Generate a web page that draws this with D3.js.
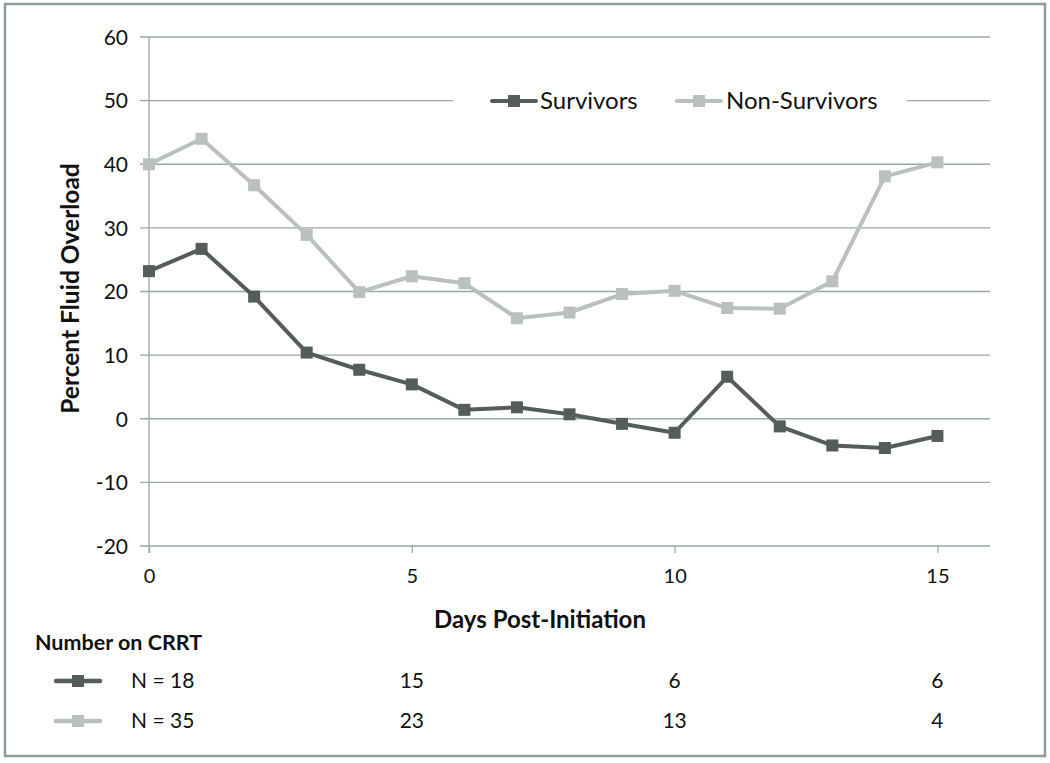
<!DOCTYPE html>
<html>
<head>
<meta charset="utf-8">
<script src="https://cdn.jsdelivr.net/npm/d3@7"></script>
<style>
  body { margin: 0; background: #fff; }
  svg text { font-family: Lato, "Open Sans", sans-serif; fill: #111; }
</style>
</head>
<body>
<svg id="chart" width="1050" height="763"></svg>
<script>
const days = [0,1,2,3,4,5,6,7,8,9,10,11,12,13,14,15];
const survivors = [23.2, 26.7, 19.2, 10.4, 7.7, 5.4, 1.4, 1.8, 0.7, -0.8, -2.2, 6.6, -1.2, -4.2, -4.6, -2.7];
const nonSurvivors = [40.0, 44.0, 36.7, 28.9, 19.9, 22.4, 21.3, 15.8, 16.7, 19.6, 20.1, 17.4, 17.3, 21.6, 38.1, 40.3];
const seriesNames = ["Survivors", "Non-Survivors"];
const yTicks = [-20, -10, 0, 10, 20, 30, 40, 50, 60];
const xTicks = [0, 5, 10, 15];
const crrtDays = [0, 5, 10, 15];
const crrtSurvivors = ["N = 18", "15", "6", "6"];
const crrtNonSurvivors = ["N = 35", "23", "13", "4"];

const colors = ["#555d5c", "#b9c0be"];
const gridColor = "#98a8a5";

const svg = d3.select("#chart");

// frame
svg.append("rect").attr("x", 5).attr("y", 4).attr("width", 1040).attr("height", 752)
  .attr("fill", "none").attr("stroke", "#8d9a98").attr("stroke-width", 2.5);

const x = d3.scaleLinear().domain([0, 16]).range([149, 990]);
const y = d3.scaleLinear().domain([-20, 60]).range([546, 37]);

// grid lines
svg.append("g").selectAll("line").data(yTicks).join("line")
  .attr("x1", 140).attr("x2", 990)
  .attr("y1", d => y(d)).attr("y2", d => y(d))
  .attr("stroke", gridColor).attr("stroke-width", 1.3);

// y tick labels
const yAxis = d3.axisLeft(y).tickValues(yTicks).tickSize(0).tickPadding(0).tickFormat(d => String(d));
const gy = svg.append("g").attr("transform", "translate(128,0)").call(yAxis);
gy.select(".domain").remove();
gy.selectAll("text").attr("font-size", 21).attr("fill", "#111").attr("dy", "0.35em")
  .style("font-family", "Lato, sans-serif");

// y axis vertical line
svg.append("line").attr("x1", x(0)).attr("x2", x(0)).attr("y1", y(60)).attr("y2", y(-20) + 7)
  .attr("stroke", gridColor).attr("stroke-width", 1.3);

// x axis
const xAxis = d3.axisBottom(x).tickValues(xTicks).tickSize(7).tickPadding(16).tickFormat(d => String(d));
const gx = svg.append("g").attr("transform", `translate(0,${y(-20)})`).call(xAxis);
gx.select(".domain").remove();
gx.selectAll("line").attr("stroke", gridColor).attr("stroke-width", 1.3);
gx.selectAll("text").attr("font-size", 20).attr("fill", "#111")
  .style("font-family", "Lato, sans-serif");

// legend background (interrupts grid line)
svg.append("rect").attr("x", 453).attr("y", 88).attr("width", 454).attr("height", 26).attr("fill", "#fff");

// lines
const line = d3.line().x((d, i) => x(days[i])).y(d => y(d));
[survivors, nonSurvivors].forEach((s, k) => {
  svg.append("path").datum(s).attr("d", line).attr("fill", "none")
    .attr("stroke", colors[k]).attr("stroke-width", 4).attr("stroke-linejoin", "round");
  svg.append("g").selectAll("rect").data(s).join("rect")
    .attr("x", (d, i) => x(days[i]) - 6).attr("y", d => y(d) - 6)
    .attr("width", 12).attr("height", 12).attr("fill", colors[k]);
});

// legend
const legendItems = [{x: 492, tx: 540}, {x: 677, tx: 726}];
legendItems.forEach((li, k) => {
  const g = svg.append("g");
  g.append("line").attr("x1", li.x).attr("x2", li.x + 44).attr("y1", 101).attr("y2", 101)
    .attr("stroke", colors[k]).attr("stroke-width", 4).attr("stroke-linecap", "round");
  g.append("rect").attr("x", li.x + 16).attr("y", 95).attr("width", 12).attr("height", 12).attr("fill", colors[k]);
  g.append("text").attr("x", li.tx).attr("y", 101).attr("dy", "0.35em").attr("font-size", 24)
    .text(seriesNames[k]);
});

// axis titles
svg.append("text").attr("transform", `translate(79,${y(20) - 3}) rotate(-90)`)
  .attr("text-anchor", "middle").attr("font-size", 24.5).attr("font-weight", "bold")
  .text("Percent Fluid Overload");
svg.append("text").attr("x", 540).attr("y", 620).attr("dy", "0.35em")
  .attr("text-anchor", "middle").attr("font-size", 24).attr("font-weight", "bold")
  .text("Days Post-Initiation");

// Number on CRRT table
svg.append("text").attr("x", 35).attr("y", 642).attr("dy", "0.35em")
  .attr("font-size", 21.5).attr("font-weight", "bold").text("Number on CRRT");

[[crrtSurvivors, 681], [crrtNonSurvivors, 721]].forEach(([vals, ry], k) => {
  svg.append("line").attr("x1", 56).attr("x2", 100).attr("y1", ry).attr("y2", ry)
    .attr("stroke", colors[k]).attr("stroke-width", 4.5).attr("stroke-linecap", "round");
  svg.append("rect").attr("x", 72).attr("y", ry - 6).attr("width", 12).attr("height", 12).attr("fill", colors[k]);
  svg.append("g").selectAll("text").data(vals).join("text")
    .attr("x", (d, i) => i === 0 ? 131 : x(crrtDays[i]))
    .attr("y", ry).attr("dy", "0.35em")
    .attr("text-anchor", (d, i) => i === 0 ? "start" : "middle")
    .attr("font-size", 21).text(d => d);
});
</script>
</body>
</html>
